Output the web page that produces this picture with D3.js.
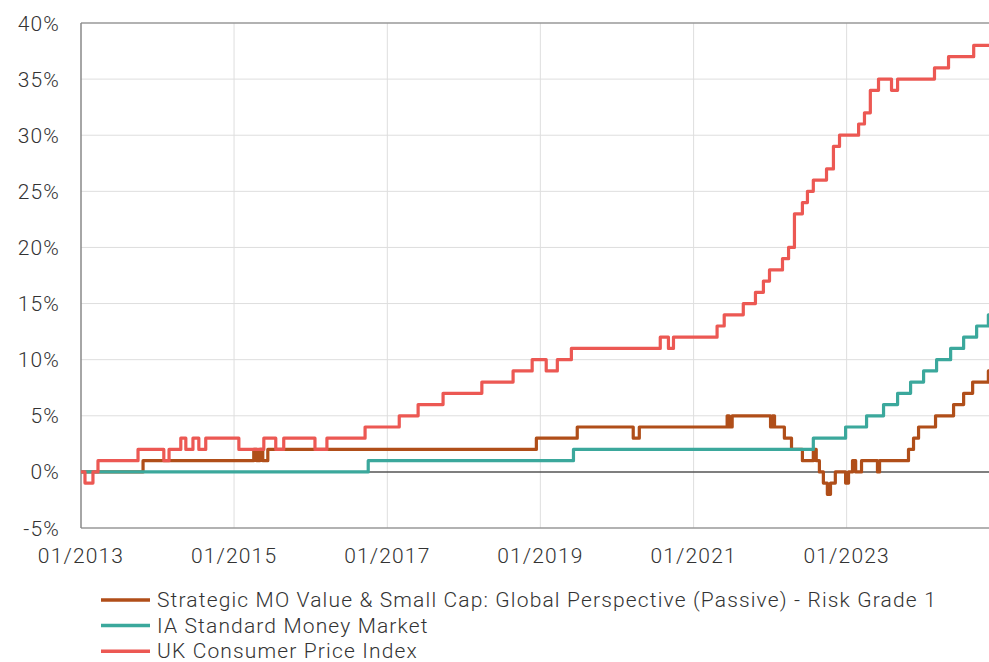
<!DOCTYPE html>
<html>
<head>
    <meta charset="utf-8">
    <script src="https://d3js.org/d3.v7.min.js"></script>
    <style>
      body { margin: 0; background: #fff; }
      text { font-family: Roboto, "Open Sans", sans-serif; font-weight: 300; fill: #333; letter-spacing: 1.15px; }
    </style>
</head>
<body>
    <script>
      // series names
      const seriesNames = [
        'Strategic MO Value & Small Cap: Global Perspective (Passive) - Risk Grade 1',
        'IA Standard Money Market',
        'UK Consumer Price Index'
      ];
      const seriesColors = ['#b04e19', '#3ba89c', '#ec5853'];

      // change points (date the value starts) and cumulative % values
      const stratDates = ['2013-01-01','2013-10-24','2015-04-05','2015-04-19','2015-05-04','2015-05-18','2015-06-11',
        '2018-12-13','2019-06-26','2020-03-19','2020-04-17','2021-06-10','2021-06-20','2021-07-04',
        '2022-01-03','2022-01-12','2022-01-22','2022-03-10','2022-04-13','2022-06-04','2022-07-26','2022-08-09',
        '2022-08-24','2022-09-12','2022-10-01','2022-10-16','2022-11-08','2022-12-27','2023-01-10','2023-01-29',
        '2023-02-13','2023-03-13','2023-05-28','2023-06-07','2023-10-23','2023-11-16','2023-12-10','2024-02-29',
        '2024-05-25','2024-07-12','2024-08-24','2024-11-07'];
      const stratValues = [0,1,2,1,2,1,2,
        3,4,3,4,5,4,5,
        4,5,4,3,2,1,2,1,
        0,-1,-2,-1,0,-1,0,1,
        0,1,0,1,2,3,4,5,
        6,7,8,9];

      const moneyDates = ['2013-01-01','2016-10-02','2019-06-08','2022-07-26','2022-12-27','2023-04-06','2023-06-26',
        '2023-09-01','2023-11-02','2024-01-03','2024-03-05','2024-05-11','2024-07-12','2024-09-12','2024-11-07'];
      const moneyValues = [0,1,2,3,4,5,6,7,8,9,10,11,12,13,14];

      const cpiDates = ['2013-01-01','2013-01-20','2013-02-27','2013-03-23','2013-09-30','2014-01-31','2014-02-25',
        '2014-04-22','2014-05-16','2014-06-19','2014-07-17','2014-08-19','2015-01-24','2015-05-23','2015-07-19',
        '2015-08-26','2016-01-22','2016-03-19','2016-09-17','2017-02-27','2017-05-28','2017-09-24','2018-03-28',
        '2018-08-24','2018-11-23','2019-01-29','2019-03-23','2019-05-29','2020-07-26','2020-09-03','2020-09-27',
        '2021-04-23','2021-05-27','2021-08-26','2021-10-23','2021-11-30','2021-12-29','2022-03-01','2022-03-30',
        '2022-04-27','2022-06-04','2022-06-28','2022-07-26','2022-09-27','2022-10-30','2022-11-28','2023-02-27',
        '2023-03-27','2023-04-24','2023-06-02','2023-08-03','2023-09-01','2024-02-24','2024-05-01','2024-08-29'];
      const cpiValues = [0,-1,0,1,2,1,2,
        3,2,3,2,3,2,3,2,
        3,2,3,4,5,6,7,8,
        9,10,9,10,11,12,11,12,
        13,14,15,16,17,18,19,20,
        23,24,25,26,27,29,30,31,
        32,34,35,34,35,36,37,38];

      const yTicks = [-5,0,5,10,15,20,25,30,35,40];
      const xTicks = ['2013-01-01','2015-01-01','2017-01-01','2019-01-01','2021-01-01','2023-01-01'];
      const startDate = '2013-01-01', endDate = '2024-11-10';

      const width = 989, height = 662;
      const margin = {top: 23, right: 0, bottom: 134, left: 81};
      const parse = d3.timeParse('%Y-%m-%d');

      const svg = d3.select('body').append('svg')
          .attr('width', width)
          .attr('height', height);

      const x = d3.scaleTime()
          .domain([parse(startDate), parse(endDate)])
          .range([margin.left, width - margin.right]);
      const y = d3.scaleLinear()
          .domain([-5, 40])
          .range([height - margin.bottom, margin.top]);

      // grid
      svg.append('g').selectAll('line.h')
          .data(yTicks.filter(d => d !== -5 && d !== 40 && d !== 0))
          .join('line')
          .attr('x1', margin.left).attr('x2', width)
          .attr('y1', d => y(d)).attr('y2', d => y(d))
          .attr('stroke', '#dedede').attr('stroke-width', 1);
      svg.append('g').selectAll('line.v')
          .data(xTicks.slice(1))
          .join('line')
          .attr('x1', d => x(parse(d))).attr('x2', d => x(parse(d)))
          .attr('y1', margin.top).attr('y2', height - margin.bottom)
          .attr('stroke', '#dedede').attr('stroke-width', 1);

      // frame
      svg.append('line').attr('x1', margin.left).attr('x2', width)
          .attr('y1', y(40)).attr('y2', y(40)).attr('stroke', '#999').attr('stroke-width', 1.5);
      svg.append('line').attr('x1', margin.left).attr('x2', width)
          .attr('y1', y(-5)).attr('y2', y(-5)).attr('stroke', '#999').attr('stroke-width', 1.5);
      svg.append('line').attr('x1', margin.left).attr('x2', margin.left)
          .attr('y1', y(40)).attr('y2', y(-5)).attr('stroke', '#888').attr('stroke-width', 1.5);
      svg.append('line').attr('x1', margin.left).attr('x2', width)
          .attr('y1', y(0)).attr('y2', y(0)).attr('stroke', '#555').attr('stroke-width', 1.5);

      // axis labels
      svg.append('g').selectAll('text')
          .data(yTicks)
          .join('text')
          .attr('x', 60)
          .attr('y', d => y(d))
          .attr('dy', '0.36em')
          .attr('text-anchor', 'end')
          .style('font-size', '21px')
          .text(d => d + '%');
      svg.append('g').selectAll('text')
          .data(xTicks)
          .join('text')
          .attr('x', d => x(parse(d)))
          .attr('y', 563)
          .attr('text-anchor', 'middle')
          .style('font-size', '21px')
          .text(d => d3.timeFormat('%m/%Y')(parse(d)));

      // series
      const series = [
        {dates: stratDates, values: stratValues},
        {dates: moneyDates, values: moneyValues},
        {dates: cpiDates, values: cpiValues}
      ].map(s => s.dates.map((d, i) => ({date: parse(d), value: s.values[i]})));
      // carry last value to the end of the axis
      series.forEach(s => s.push({date: parse(endDate), value: s[s.length - 1].value}));

      const line = d3.line()
          .x(d => x(d.date))
          .y(d => y(d.value))
          .curve(d3.curveStepAfter);

      svg.append('g').selectAll('path')
          .data(series)
          .join('path')
          .attr('d', line)
          .attr('fill', 'none')
          .attr('stroke', (d, i) => seriesColors[i])
          .attr('stroke-width', 3.2)
          .attr('stroke-linejoin', 'round');

      // legend
      const legend = svg.append('g').selectAll('g')
          .data(seriesNames)
          .join('g')
          .attr('transform', (d, i) => `translate(101, ${600 + i * 25.6})`);
      legend.append('line')
          .attr('x1', 0).attr('x2', 49)
          .attr('stroke', (d, i) => seriesColors[i])
          .attr('stroke-width', 3.5);
      legend.append('text')
          .attr('x', 56)
          .attr('dy', '0.34em')
          .style('font-size', '21px')
          .text(d => d);
    </script>
</body>
</html>
